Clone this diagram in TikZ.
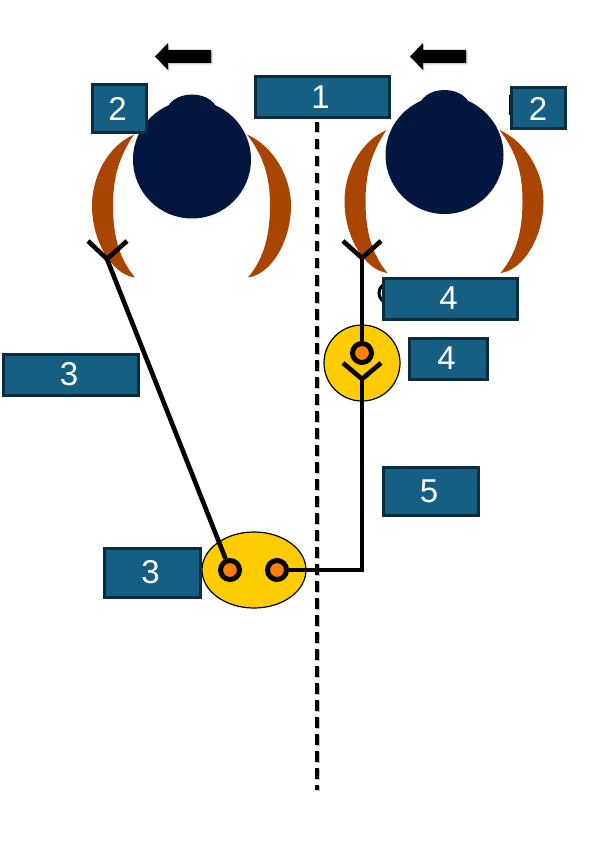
\documentclass[tikz,border=0pt]{standalone}
\usepackage{fontspec}
\setmainfont{Liberation Sans}
\usetikzlibrary{shapes.geometric,calc}
\definecolor{boxfill}{HTML}{156082}
\definecolor{boxedge}{HTML}{0B2D40}
\definecolor{headcol}{HTML}{02163F}
\definecolor{earcol}{HTML}{A94500}
\definecolor{yellowcol}{HTML}{FFCC00}
\definecolor{dotcol}{HTML}{FF8000}
\tikzset{
  labelbox/.style={draw=boxedge,fill=boxfill,line width=3pt,text=white,inner sep=0pt,
    font=\fontsize{33}{33}\selectfont,anchor=center},
  headshape/.style={fill=headcol,draw=none},
  earshape/.style={fill=earcol,draw=none},
  wire/.style={draw=black,line width=4.6pt},
  pupil/.style={circle,draw=black,fill=dotcol,line width=5pt,minimum size=19pt,inner sep=0pt},
  retina/.style={draw=black,fill=yellowcol,line width=1.2pt,inner sep=0pt},
  bigarrow/.style={fill=black,draw=none},
  arrowshadow/.style={fill=black!35,draw=none,opacity=.6},
  midline/.style={line width=3.6pt,dash pattern=on 10.5pt off 6.5pt},
}
\newcommand{\lbl}[1]{\kern-3pt #1}
\newcommand{\headat}[3]{% x y name
  \begin{scope}[shift={(#1,#2)}]
    \fill[earshape] (-58,-25) .. controls (-85,-13) and (-100,18) .. (-100,46)
      .. controls (-100,82) and (-80,115) .. (-57,118)
      .. controls (-72,100) and (-79,78) .. (-79,46)
      .. controls (-79,16) and (-72,-4) .. (-58,-25) -- cycle;
    \fill[earshape] (55,-25) .. controls (82,-13) and (99,18) .. (99,46)
      .. controls (99,82) and (79,115) .. (56,118)
      .. controls (71,100) and (78,78) .. (78,46)
      .. controls (78,16) and (71,-4) .. (55,-25) -- cycle;
    \fill[headshape] (0,0) circle (59);
    \fill[headshape] (0,-46) ellipse (26 and 19);
  \end{scope}}
\newcommand{\arrowat}[1]{%
  \begin{scope}[shift={(#1,0)}]
    \fill[arrowshadow] (1,57.5) -- (14,44.5) -- (14,51.5) -- (57.5,51.5) -- (57.5,64.5) -- (14,64.5) -- (14,71.5) -- cycle;
    \fill[bigarrow] (0,56.5) -- (13,43) -- (13,50) -- (56,50) -- (56,63) -- (13,63) -- (13,70) -- cycle;
  \end{scope}}
\begin{document}
\begin{tikzpicture}[x=1pt,y=-1pt]
\useasboundingbox (0,0) rectangle (612,858);
% dashed midline
\coordinate (midtop) at (317,122);
\coordinate (midbot) at (317,790);
\draw[black!25,midline] ($(midtop)+(1,1)$) -- ($(midbot)+(1,1)$);
\draw[black,midline] (midtop) -- (midbot);
% heads
\headat{192}{159.5}{L}
\headat{444.5}{155}{R}
\arrowat{155}
\arrowat{410}
% hidden fragments behind labels
\fill[black] (514,95) rectangle (508.5,115);
\draw[black,line width=3pt] (389,293) circle (10);
% retinas
\node[retina,ellipse,minimum width=104pt,minimum height=76pt] (chiasm) at (254,570) {};
\node[retina,circle,minimum size=76pt] (nucleus) at (362,363) {};
% coordinates of Y junctions
\coordinate (yL) at (107,259);
\coordinate (yLa) at (88,241);
\coordinate (yLb) at (127,241);
\coordinate (yR) at (362,258);
\coordinate (yRa) at (343,241);
\coordinate (yRb) at (381,241);
\coordinate (yB) at (362,379);
\coordinate (yBa) at (343,363);
\coordinate (yBb) at (381,363);
% pupils
\node[pupil] (dotA) at (230,570) {};
\node[pupil] (dotB) at (277,570) {};
\node[pupil] (dotC) at (362,353) {};
% wires
\draw[wire] (yLa) -- (yL) -- (yLb);
\draw[wire] (yRa) -- (yR) -- (yRb);
\draw[wire] (yBa) -- (yB) -- (yBb);
\draw[wire] (yL) -- (dotA);
\draw[wire] (yR) -- (dotC);
\draw[wire,line join=miter] (dotB) -| (yB);
% labels
\node[labelbox,minimum width=134pt,minimum height=41pt] (b1) at (322,97.5) {\lbl{1}};
\node[labelbox,minimum width=54pt,minimum height=48pt] (b2a) at (119,109) {\lbl{2}};
\node[labelbox,minimum width=54pt,minimum height=41pt] (b2b) at (538,108.5) {2};
\node[labelbox,minimum width=134pt,minimum height=41pt] (b4a) at (450,298.5) {\lbl{4}};
\node[labelbox,minimum width=78pt,minimum height=41pt] (b4b) at (448,358.5) {\lbl{4}};
\node[labelbox,minimum width=135pt,minimum height=41pt] (b3a) at (70.5,374.5) {\lbl{3}};
\node[labelbox,minimum width=96pt,minimum height=49pt] (b3b) at (152,572.5) {\lbl{3}};
\node[labelbox,minimum width=95pt,minimum height=48pt] (b5) at (430.5,491) {\lbl{5}};
\end{tikzpicture}
\end{document}
